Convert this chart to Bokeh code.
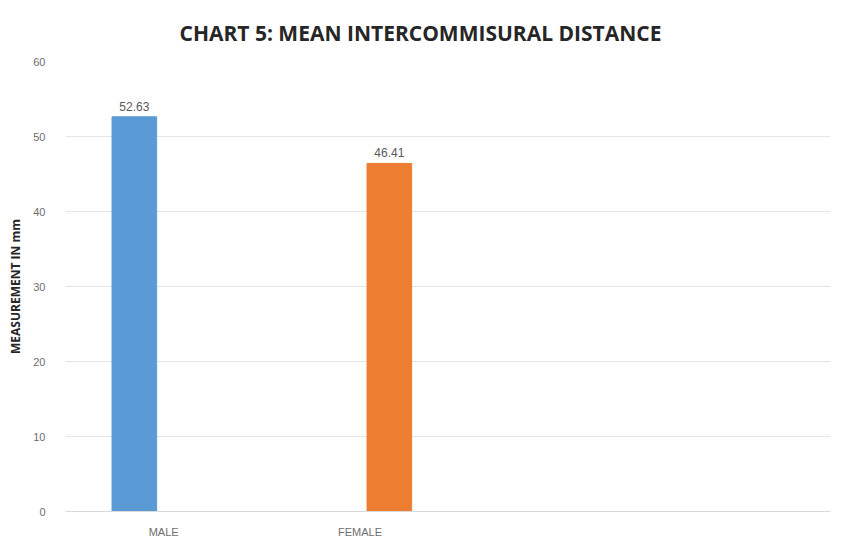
from bokeh.plotting import figure
from bokeh.models import Range1d, FixedTicker, ColumnDataSource, Title
from bokeh.embed import file_html
from bokeh.resources import INLINE

# data
categories = ["MALE", "FEMALE"]
values = [52.63, 46.41]
colors = ["#5B9BD5", "#ED7D31"]
y_ticks = [0, 10, 20, 30, 40, 50, 60]

# layout of slots on a numeric axis: each category takes one slot of width 1
bar_offset = 0.27
bar_width = 0.175
label_pos = [0.385, 1.155]

bar_x = [i + bar_offset for i in range(len(categories))]
src = ColumnDataSource(dict(
    x=bar_x, top=values, color=colors,
    label=[f"{v:.2f}" for v in values],
))

p = figure(width=846, height=541, output_backend="svg", toolbar_location=None,
           x_range=Range1d(0, 3), y_range=Range1d(0, 60),
           min_border_left=65, min_border_right=16, min_border_top=61,
           min_border_bottom=30, outline_line_color=None)

title = Title(text="CHART 5: MEAN INTERCOMMISURAL DISTANCE", align="left",
              text_font="Open Sans", text_font_style="bold", text_font_size="21px",
              text_color="#262626", offset=114, standoff=29)
p.add_layout(title, "above")

p.vbar(x="x", top="top", width=bar_width, color="color", source=src)
p.text(x="x", y="top", text="label", source=src, text_align="center",
       text_baseline="bottom", y_offset=-6, text_font_size="12px",
       text_color="#595959")

p.yaxis.ticker = FixedTicker(ticks=y_ticks)
p.yaxis.axis_line_color = None
p.yaxis.major_tick_line_color = None
p.yaxis.minor_tick_line_color = None
p.yaxis.major_label_text_color = "#6E6E6E"
p.yaxis.major_label_text_font_size = "11px"
p.yaxis.major_label_standoff = 14
p.yaxis.axis_label = "MEASUREMENT IN mm"
p.yaxis.axis_label_text_font = "Open Sans"
p.yaxis.axis_label_text_font_style = "bold"
p.yaxis.axis_label_text_font_size = "12px"
p.yaxis.axis_label_text_color = "#262626"
p.yaxis.axis_label_standoff = 6

p.xaxis.ticker = FixedTicker(ticks=label_pos)
p.xaxis.major_label_overrides = {pos: name for pos, name in zip(label_pos, categories)}
p.xaxis.axis_line_color = "#D9D9D9"
p.xaxis.major_tick_line_color = None
p.xaxis.minor_tick_line_color = None
p.xaxis.major_label_text_color = "#6E6E6E"
p.xaxis.major_label_text_font_size = "11px"
p.xaxis.major_label_standoff = 8

p.xgrid.grid_line_color = None
p.ygrid.grid_line_color = "#E5E5E5"
p.ygrid.ticker = FixedTicker(ticks=y_ticks)

open("out.html", "w").write(file_html(p, INLINE))
